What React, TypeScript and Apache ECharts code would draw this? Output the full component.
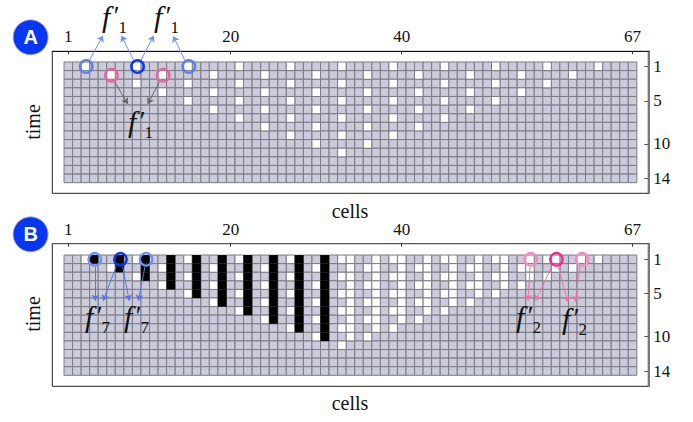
import React, { useEffect, useRef } from "react";
import * as echarts from "echarts";

const COLS = 67;
const ROWS = 14;
const xTickValues = [1, 20, 40, 67];
const yTickValues = [1, 5, 10, 14];

// Panel A: white cells, column number + rows
const aWhiteCols = [3, 6, 9, 12, 15, 18, 21, 24, 27, 30, 33, 36, 39, 42, 45, 48, 51, 54, 57, 60, 63];
const aWhiteRows = [
  [1], [2], [1, 3], [2, 4], [1, 3, 5], [2, 4, 6], [1, 3, 5, 7], [2, 4, 6, 8], [1, 3, 5, 7, 9],
  [2, 4, 6, 8, 10], [1, 3, 5, 7, 9, 11], [2, 4, 6, 8, 10], [1, 3, 5, 7, 9], [2, 4, 6, 8],
  [1, 3, 5, 7], [2, 4, 6], [1, 3, 5], [2, 4], [1, 3], [2], [1],
];

// Panel B: white cells
const bWhiteCols = [3, 6, 9, 12, 15, 18, 21, 24, 27, 30, 33, 34, 36, 37, 39, 40, 42, 43, 45, 46, 48, 49, 51, 52, 54, 55, 57, 58, 60, 61, 63];
const bWhiteRows = [
  [1], [2], [1, 3], [2, 4], [1, 3, 5], [2, 4, 6], [1, 3, 5, 7], [2, 4, 6, 8], [1, 3, 5, 7, 9],
  [2, 4, 6, 8, 10], [1, 3, 5, 7, 9, 11], [1, 2, 3, 4, 5, 6, 7, 8, 9, 10],
  [2, 4, 6, 8, 10], [1, 2, 3, 4, 5, 6, 7, 8, 9],
  [1, 3, 5, 7, 9], [1, 2, 3, 4, 5, 6, 7, 8],
  [2, 4, 6, 8], [1, 2, 3, 4, 5, 6, 7],
  [1, 3, 5, 7], [1, 2, 3, 4, 5, 6],
  [2, 4, 6], [1, 2, 3, 4, 5],
  [1, 3, 5], [1, 2, 3, 4],
  [2, 4], [1, 2, 3],
  [1, 3], [1, 2],
  [2], [1], [1],
];

// Panel B: black columns, last black row per column
const bBlackCols = [4, 7, 10, 13, 16, 19, 22, 25, 28, 31];
const bBlackDepth = [1, 2, 3, 4, 5, 6, 7, 8, 9, 10];

// Annotation rings: [column, row, colour]
const aRings: [number, number, string][] = [
  [3.1, 1.03, "#5f7fe6"], [9.1, 1.03, "#0a38f2"], [15.1, 1.03, "#5f7fe6"], [6.05, 2.03, "#e0699f"], [12.1, 2.03, "#e0699f"],
];
const bRings: [number, number, string][] = [
  [4.1, 1, "#6f8ff2"], [7.1, 1, "#0a38f2"], [10.1, 1, "#6f8ff2"],
  [55.1, 1, "#f48cc0"], [58.1, 1, "#f5288f"], [61.1, 1, "#f48cc0"],
];

// Annotation arrows: [x0, y0, x1, y1, colour] in axis units
const aArrows: [number, number, number, number, string][] = [
  [3.44, 0.34, 5.06, -2.55, "#6f8ff2"],
  [8.65, 0.34, 7.22, -2.55, "#6f8ff2"],
  [9.48, 0.34, 10.99, -2.55, "#6f8ff2"],
  [14.65, 0.34, 13.28, -2.5, "#6f8ff2"],
  [6.46, 2.86, 7.95, 5.37, "#666666"],
  [11.64, 2.86, 10.29, 5.37, "#666666"],
];
const bArrows: [number, number, number, number, string][] = [
  [4.16, 1.86, 4.16, 5.82, "#5575ea"],
  [6.58, 1.86, 5.09, 5.82, "#5575ea"],
  [7.36, 1.86, 8.13, 5.82, "#5575ea"],
  [9.97, 1.86, 9.19, 5.82, "#5575ea"],
  [55.0, 1.86, 54.77, 5.82, "#f070b0"],
  [57.54, 1.86, 55.67, 5.82, "#f070b0"],
  [58.31, 1.86, 59.41, 5.94, "#f070b0"],
  [60.85, 1.86, 60.3, 5.94, "#f070b0"],
];

// Math labels: [left, centre y, subscript]
const mathLabels: [number, number, string][] = [
  [102, 16, "1"], [154, 16, "1"], [128, 121, "1"],
  [85, 316, "7"], [124, 316, "7"],
  [516, 316, "2"], [562, 318, "2"],
];

const badges: [number, number, string][] = [[30.6, 37.3, "A"], [30.6, 234.3, "B"]];
const axisTitles: [number, number, string, number][] = [
  [350, 211, "cells", 0], [350, 403, "cells", 0],
  [33, 122, "time", Math.PI / 2], [33, 314, "time", Math.PI / 2],
];

const serif = '"Liberation Serif", "Times New Roman", serif';

function buildCells(wCols: number[], wRows: number[][], kCols: number[], kDepth: number[]) {
  const state: Record<string, number> = {};
  wCols.forEach((c, i) => wRows[i].forEach((r) => (state[`${c}-${r}`] = 1)));
  kCols.forEach((c, i) => {
    for (let r = 1; r <= kDepth[i]; r++) state[`${c}-${r}`] = 2;
  });
  const out: number[][] = [];
  for (let r = 1; r <= ROWS; r++)
    for (let c = 1; c <= COLS; c++) out.push([c, r, state[`${c}-${r}`] || 0]);
  return out.sort((p, q) => p[2] - q[2]);
}

function renderCell(_: any, api: any) {
  const c = api.value(0);
  const r = api.value(1);
  const s = api.value(2);
  const p = api.coord([c, r]);
  const sz = api.size([1, 1]);
  return {
    type: "rect",
    shape: { x: p[0] - sz[0] / 2, y: p[1] - sz[1] / 2, width: sz[0], height: sz[1] },
    style:
      s === 2
        ? { fill: "#000", stroke: "#000", lineWidth: 0.3 }
        : { fill: s === 1 ? "#fff" : "#cbcbdc", stroke: "#7b7b84", lineWidth: 1 },
  };
}

function panelSeries(index: number, cells: number[][], rings: typeof aRings, arrows: typeof aArrows) {
  return [
    {
      type: "custom",
      xAxisIndex: index,
      yAxisIndex: index,
      data: cells,
      encode: { x: 0, y: 1 },
      renderItem: renderCell,
      clip: false,
      silent: true,
      z: 2,
    },
    {
      type: "lines",
      coordinateSystem: "cartesian2d",
      xAxisIndex: index,
      yAxisIndex: index,
      clip: false,
      polyline: false,
      symbol: ["none", "arrow"],
      symbolSize: 6,
      silent: true,
      z: 4,
      data: arrows.map((a) => ({
        coords: [[a[0], a[1]], [a[2], a[3]]],
        lineStyle: { color: a[4], width: 1, opacity: 1, curveness: 0 },
      })),
    },
    {
      type: "scatter",
      xAxisIndex: index,
      yAxisIndex: index,
      symbol: "circle",
      symbolSize: 12.5,
      clip: false,
      silent: true,
      z: 5,
      data: rings.map((g) => ({
        value: [g[0], g[1]],
        itemStyle: { color: "rgba(0,0,0,0)", borderColor: g[2], borderWidth: 2.4, opacity: 1 },
      })),
    },
  ];
}

function xAxisOf(gridIndex: number, lineColor: string) {
  return {
    type: "value",
    gridIndex,
    position: "top",
    min: -0.87,
    max: 68.84,
    splitLine: { show: false },
    axisLine: { show: true, onZero: false, lineStyle: { color: lineColor, width: 1 } },
    axisTick: { show: true, inside: true, length: 3, customValues: xTickValues, lineStyle: { color: "#333" } },
    axisLabel: {
      show: true,
      customValues: xTickValues,
      formatter: (v: number) => String(v),
      color: "#111",
      fontFamily: serif,
      fontSize: 17,
      margin: 6,
    },
  };
}

function yAxisOf(gridIndex: number, min: number, max: number) {
  return {
    type: "value",
    gridIndex,
    position: "right",
    inverse: true,
    min,
    max,
    splitLine: { show: false },
    axisLine: { show: true, onZero: false, lineStyle: { color: "#77777c", width: 2 } },
    axisTick: { show: true, inside: true, length: 4, customValues: yTickValues, lineStyle: { color: "#555" } },
    axisLabel: {
      show: true,
      customValues: yTickValues,
      formatter: (v: number) => String(v),
      color: "#111",
      fontFamily: serif,
      fontSize: 17,
      margin: 5,
    },
  };
}

export default function App() {
  const ref = useRef<HTMLDivElement>(null);
  useEffect(() => {
    const chart = echarts.init(ref.current!, undefined, { renderer: "svg" });
    const graphics: any[] = [];
    badges.forEach(([x, y, t]) => {
      graphics.push({
        type: "circle",
        shape: { cx: x, cy: y, r: 17.5 },
        style: { fill: "#0737f5", stroke: "#b5b5c0", lineWidth: 1 },
        z: 100,
      });
      graphics.push({
        type: "text",
        x,
        y,
        style: {
          text: t,
          fill: "#fff",
          font: 'bold 20px "Liberation Sans", Arial, sans-serif',
          textAlign: "center",
          textVerticalAlign: "middle",
        },
        z: 101,
      });
    });
    axisTitles.forEach(([x, y, t, rot]) => {
      graphics.push({
        type: "text",
        x,
        y,
        rotation: rot,
        style: { text: t, fill: "#111", font: `20px ${serif}`, textAlign: "center", textVerticalAlign: "middle" },
        z: 100,
      });
    });
    mathLabels.forEach(([x, y, sub]) => {
      graphics.push({
        type: "text",
        x,
        y,
        style: {
          text: `{f|f}{p|′}{s|${sub}}`,
          fill: "#111",
          textAlign: "left",
          textVerticalAlign: "middle",
          rich: {
            f: { font: `italic 30px ${serif}`, fill: "#111", width: 10, lineHeight: 30 },
            p: { font: `italic 27px ${serif}`, fill: "#111", width: 6.5, height: 30, lineHeight: 30, verticalAlign: "top" },
            s: { font: `17px ${serif}`, fill: "#111", height: 8, lineHeight: 30, verticalAlign: "bottom" },
          },
        },
        z: 100,
      });
    });

    chart.setOption({
      animation: false,
      backgroundColor: "#fff",
      grid: [
        { left: 52.3, top: 51.3, width: 596, height: 142, show: true, borderColor: "#222", borderWidth: 1, backgroundColor: "transparent" },
        { left: 52.3, top: 243.7, width: 596, height: 142.6, show: true, borderColor: "#222", borderWidth: 1, backgroundColor: "transparent" },
      ],
      xAxis: [xAxisOf(0, "#111"), xAxisOf(1, "#555")],
      yAxis: [yAxisOf(0, -0.74, 15.73), yAxisOf(1, -0.82, 15.78)],
      series: [
        ...panelSeries(0, buildCells(aWhiteCols, aWhiteRows, [], []), aRings, aArrows),
        ...panelSeries(1, buildCells(bWhiteCols, bWhiteRows, bBlackCols, bBlackDepth), bRings, bArrows),
      ],
      graphic: graphics,
    });
    return () => chart.dispose();
  }, []);
  return <div ref={ref} style={{ position: "fixed", left: 0, top: 0, width: 693, height: 422, background: "#fff" }} />;
}
